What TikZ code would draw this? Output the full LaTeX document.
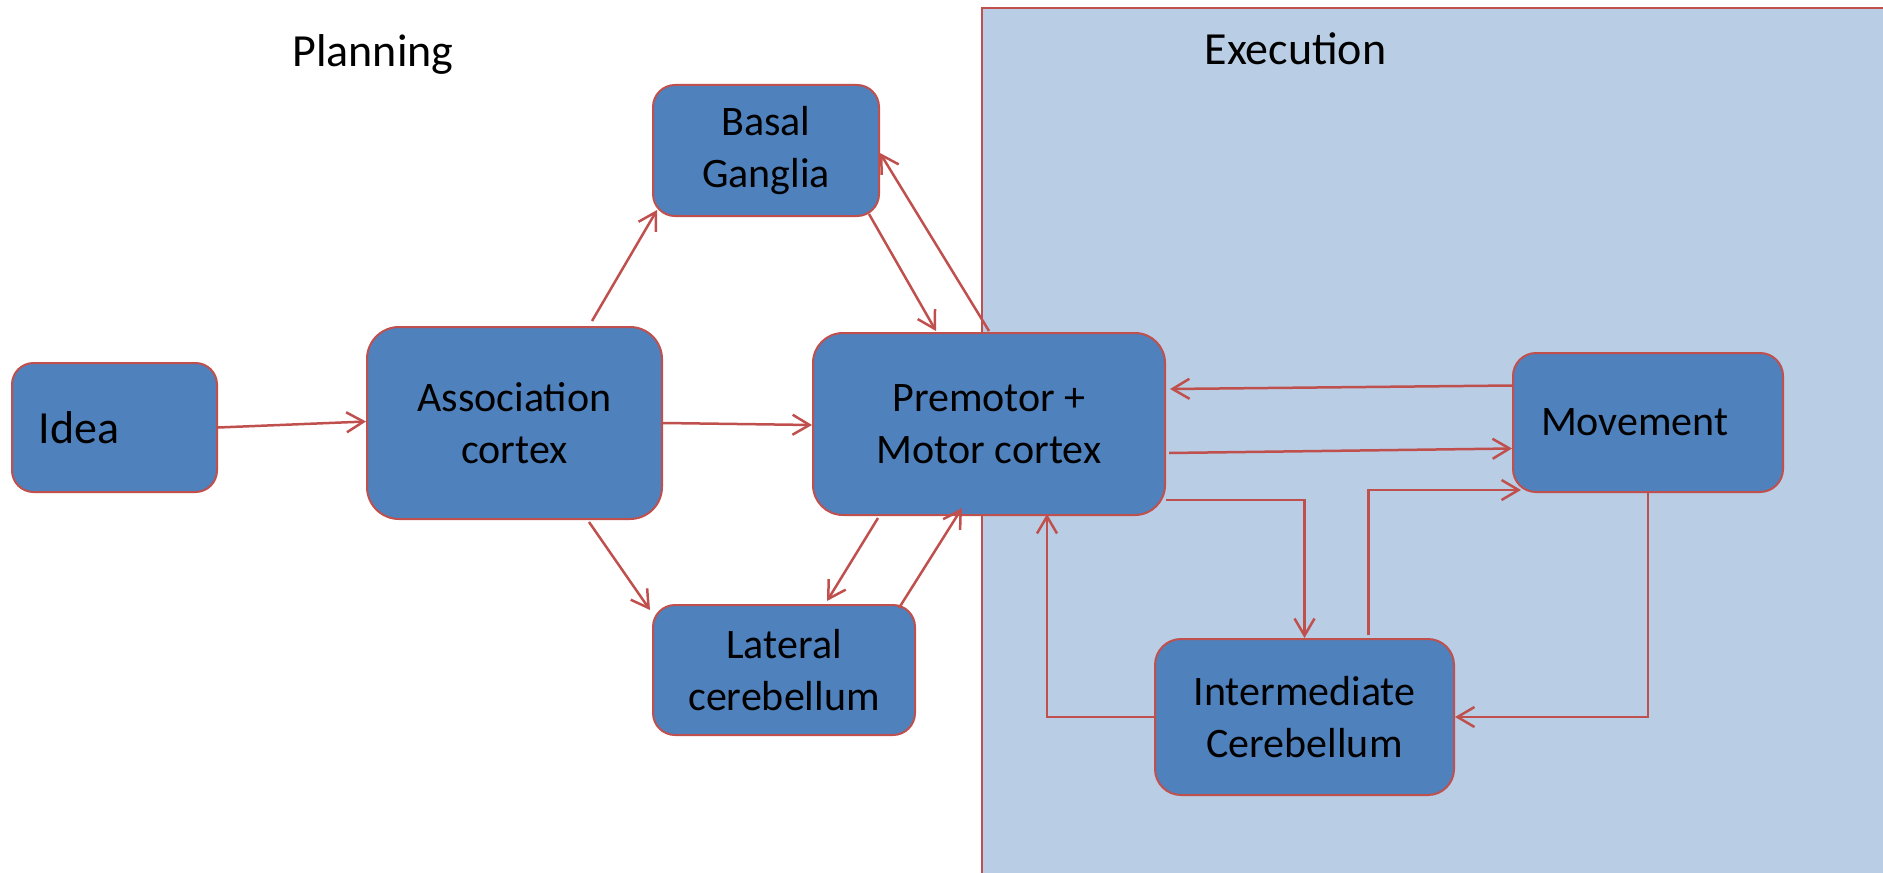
\documentclass[tikz,border=0pt]{standalone}
\usepackage{fontspec}
\setmainfont{Carlito}
\usetikzlibrary{arrows.meta}
\definecolor{boxfill}{HTML}{4F81BD}
\definecolor{redline}{HTML}{C0504D}
\definecolor{execbg}{HTML}{B9CDE5}
\tikzset{
  box/.style={draw=redline, fill=boxfill, line width=1pt, align=center,
    font=\fontsize{21}{26}\selectfont, inner sep=0pt},
  conn/.style={draw=redline, line width=1.25pt,
    -{Straight Barb[length=8.5pt, width=10pt, line width=1.25pt]}},
  title/.style={font=\fontsize{23}{27}\selectfont, anchor=base}
}
\begin{document}
\begin{tikzpicture}[x=0.5pt, y=-0.5pt]
\useasboundingbox (0,0) rectangle (1883,872);
\clip (0,0) rectangle (1883,872);
% execution region
\path[fill=execbg, draw=redline, line width=1pt] (982,8) rectangle (1900,890);
\node[title] (planning) at (373,67) {Planning};
\node[title] (execution) at (1295.5,65) {Execution};
% boxes
\node[box, minimum width=102.5pt, minimum height=64.5pt, rounded corners=10.75pt,
      text width=75.5pt, align=left, font=\fontsize{23}{27}\selectfont]
      (idea) at (114.5,427.5) {Idea};
\node[box, minimum width=147.5pt, minimum height=96pt, rounded corners=16pt]
      (assoc) at (514.5,423) {Association\\cortex};
\node[box, minimum width=113pt, minimum height=65.5pt, rounded corners=11pt]
      (basal) at (766,150.5) {Basal\\Ganglia};
\node[box, minimum width=176pt, minimum height=91pt, rounded corners=15pt]
      (premotor) at (989,424) {Premotor +\\Motor cortex};
\node[box, minimum width=131pt, minimum height=65pt, rounded corners=11pt]
      (lateral) at (784,670) {Lateral\\cerebellum};
\node[box, minimum width=149.5pt, minimum height=78pt, rounded corners=13pt]
      (inter) at (1304.5,717) {Intermediate\\Cerebellum};
\node[box, minimum width=135pt, minimum height=69.5pt, rounded corners=11.5pt,
      text width=107pt, align=left]
      (movement) at (1648,422.5) {Movement};
% connectors
\draw[conn] (idea.east) -- ([yshift=0.75pt]assoc.west);
\draw[conn] (assoc.east) -- ([yshift=-0.5pt]premotor.west);
\draw[conn] ([xshift=38.75pt,yshift=2.5pt]assoc.north) -- ([xshift=2.5pt,yshift=3.5pt]basal.south west);
\draw[conn] ([xshift=37.25pt,yshift=-1pt]assoc.south) -- ([xshift=-1pt,yshift=-3pt]lateral.north west);
\draw[conn] ([xshift=-5.5pt,yshift=1.5pt]basal.south east) -- ([xshift=-26.5pt,yshift=0.5pt]premotor.north);
\draw[conn] ([yshift=0.5pt]premotor.north) -- ([yshift=-1.25pt]basal.east);
\draw[conn] ([xshift=-55.5pt,yshift=-1pt]premotor.south) -- ([xshift=21.5pt,yshift=1.5pt]lateral.north);
\draw[conn] ([xshift=-8.5pt,yshift=-2pt]lateral.north east) -- ([xshift=-13.5pt,yshift=4pt]premotor.south);
\draw[conn] ([yshift=18.5pt]movement.west) -- ([xshift=2pt,yshift=17.5pt]premotor.east);
\draw[conn] ([xshift=1.5pt,yshift=-14.5pt]premotor.east) -- ([yshift=-13pt]movement.west);
\draw[conn] ([yshift=8pt]premotor.south east) -| (inter.north);
\draw[conn] ([xshift=32pt,yshift=1.5pt]inter.north) |- ([xshift=4.5pt,yshift=1.5pt]movement.south west);
\draw[conn] (movement.south) |- (inter.east);
\draw[conn] (inter.west) -| ([xshift=29pt,yshift=1pt]premotor.south);
\end{tikzpicture}
\end{document}
